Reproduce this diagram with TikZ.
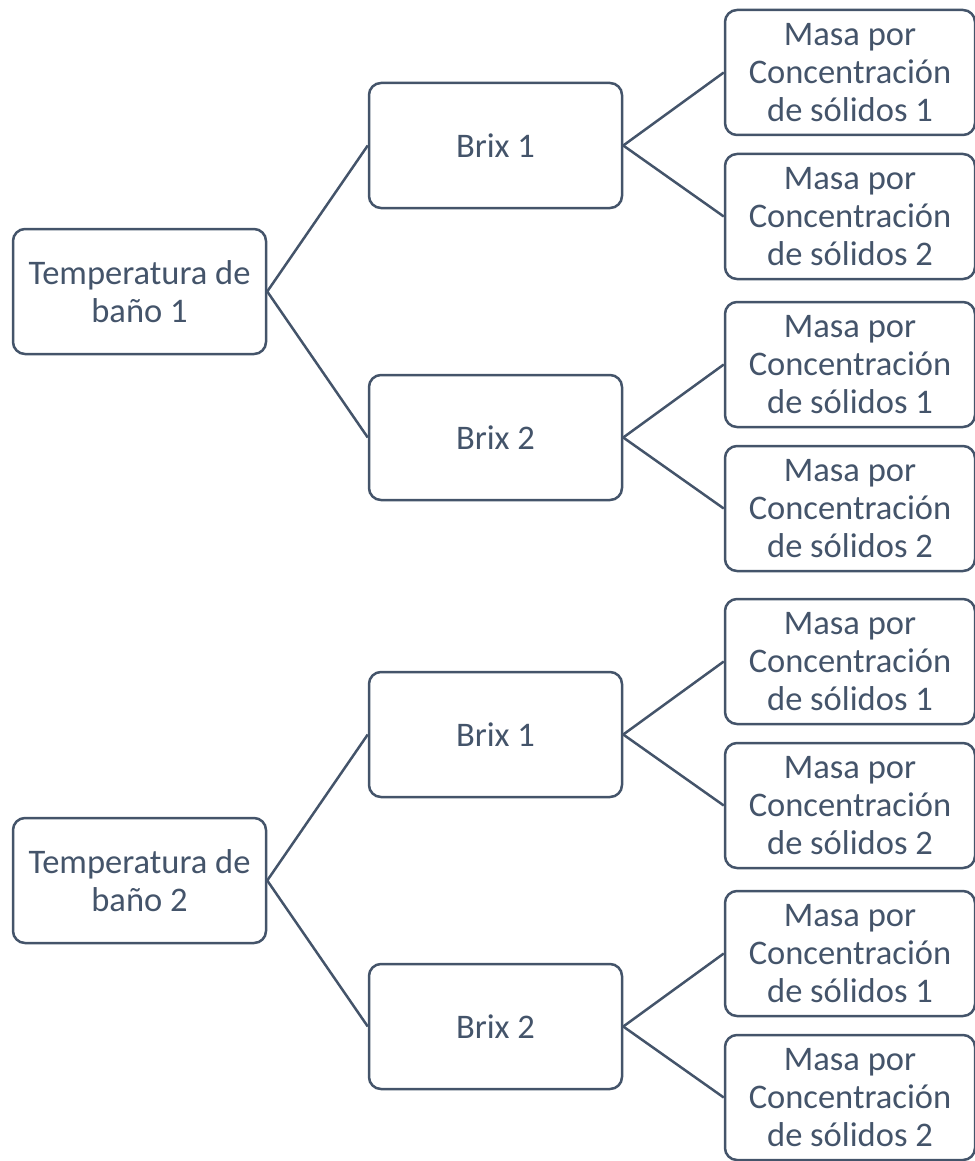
\documentclass[tikz,border=0pt]{standalone}
\usepackage{fontspec}
\setmainfont{Carlito}
\definecolor{pizarra}{HTML}{44546A}
\tikzset{
  caja/.style={draw=pizarra, line width=2.5pt, rounded corners=12pt, text=pizarra,
    align=center, inner sep=0pt, minimum width=253pt, minimum height=125pt,
    font=\fontsize{34.5}{38}\selectfont},
  hoja/.style={caja, minimum width=250pt, minimum height=125pt},
  linea/.style={draw=pizarra, line width=2.5pt}
}
\begin{document}
\begin{tikzpicture}[x=1pt,y=-1pt]
  \useasboundingbox (0,0) rectangle (974,1161);
  \foreach \g/\dy in {1/0, 2/589}{
    \node[caja] (temp\g) at (139.5,291.5+\dy) {Temperatura de\\baño \g};
    \foreach \b/\by in {1/145.5, 2/437.5}{
      \node[caja] (brix\g\b) at (495.5,\by+\dy) {Brix \b};
      \draw[linea] (temp\g.east) -- (brix\g\b.west);
      \foreach \m/\my in {1/-73, 2/71}{
        \node[hoja] (masa\g\b\m) at (850,\by+\my+\dy) {Masa por\\Concentración\\de sólidos \m};
        \draw[linea] (brix\g\b.east) -- (masa\g\b\m.west);
      }
    }
  }
\end{tikzpicture}
\end{document}
